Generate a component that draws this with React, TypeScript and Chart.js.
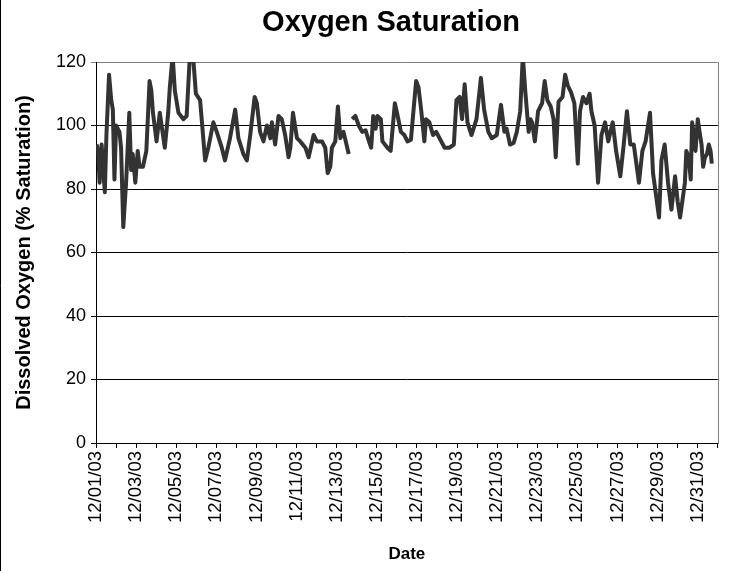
import React, { useEffect, useRef } from 'react';
import { Chart, registerables } from 'chart.js';

Chart.register(...registerables);

const TITLE = 'Oxygen Saturation';
const X_TITLE = 'Date';
const Y_TITLE = 'Dissolved Oxygen (% Saturation)';

// Days elapsed since 12/01/03 00:00
const dayOffsets: number[] = [
  0.03, 0.11, 0.18, 0.28, 0.44, 0.52, 0.65, 0.76, 0.84, 0.92,
  1.0, 1.17, 1.25, 1.36, 1.5, 1.66, 1.75, 1.83, 1.96, 2.08,
  2.17, 2.34, 2.51, 2.67, 2.76, 2.84, 3.02, 3.18, 3.27, 3.43,
  3.6, 3.68, 3.82, 3.93, 4.11, 4.36, 4.52, 4.68, 4.85, 4.98,
  5.19, 5.44, 5.6, 5.85, 6.02, 6.27, 6.43, 6.68, 6.94, 7.1,
  7.35, 7.52, 7.69, 7.91, 8.02, 8.18, 8.35, 8.52, 8.69, 8.77,
  8.93, 9.1, 9.26, 9.43, 9.6, 9.69, 9.82, 10.02, 10.18, 10.44,
  10.6, 10.85, 11.01, 11.27, 11.43, 11.55, 11.68, 11.76, 11.93, 12.06,
  12.18, 12.34, 12.6, 12.66, 12.77, 12.93, 13.1, 13.27, 13.44, 13.61,
  13.72, 13.82, 13.94, 14.03, 14.2, 14.28, 14.53, 14.69, 14.9, 15.04,
  15.2, 15.37, 15.53, 15.7, 15.96, 16.08, 16.21, 16.37, 16.45, 16.62,
  16.8, 16.96, 17.13, 17.38, 17.62, 17.84, 17.97, 18.13, 18.25, 18.38,
  18.52, 18.72, 18.97, 19.19, 19.35, 19.56, 19.73, 19.98, 20.19, 20.36,
  20.47, 20.64, 20.82, 20.98, 21.15, 21.28, 21.4, 21.57, 21.66, 21.74,
  21.88, 22.04, 22.24, 22.37, 22.5, 22.67, 22.81, 22.92, 23.06, 23.26,
  23.39, 23.52, 23.68, 23.85, 24.02, 24.13, 24.28, 24.45, 24.61, 24.7,
  24.86, 25.03, 25.2, 25.38, 25.54, 25.76, 25.93, 26.14, 26.31, 26.47,
  26.64, 26.81, 27.07, 27.24, 27.4, 27.62, 27.74, 27.77, 27.93, 28.07,
  28.19, 28.35, 28.52, 28.69, 28.87, 29.0, 29.12, 29.36, 29.43, 29.55,
  29.65, 29.72, 29.79, 29.89, 30.0, 30.09, 30.19, 30.27, 30.36, 30.46,
  30.55, 30.64, 30.7,
];

// Dissolved oxygen, % saturation (null = missing reading)
const saturation: (number | null)[] = [
  94, 92, 82, 94, 79, 97, 116, 108, 105, 83,
  100, 98, 93, 68, 82, 104, 86, 91, 82, 92,
  87, 87, 92, 114, 111, 104, 95, 104, 100, 93,
  104, 112, 122, 111, 104, 102, 103, 122, 121, 110,
  108, 89, 93, 101, 98, 93, 89, 96, 105, 96,
  91, 89, 97, 109, 107, 98, 95, 100, 96, 101,
  94, 103, 102, 97, 90, 93, 104, 96, 95, 93,
  90, 97, 95, 95, 93, 85, 87, 93, 95, 106,
  96, 98, 91, null, 102, 103, 100, 98, 98.5, 95,
  93, 103, 99, 103, 102, 95, 93, 92, 107, 103,
  98, 97, 95, 95.5, 114, 112, 105, 95, 102, 101,
  97, 98, 96, 93, 93, 94, 108, 109, 102, 113,
  101, 97, 102, 115, 105, 98, 96, 97, 106.5, 98,
  99, 94, 94.5, 98, 104.5, 122, 111, 98, 102, 101,
  95, 104.5, 107, 114, 108, 106, 102, 90, 107.5, 109,
  116, 112.6, 110.5, 107, 88, 104.5, 109, 107, 110, 104.5,
  100, 82, 97, 101, 95, 101, 92, 84, 94, 104.5,
  94, 94, 82, 92, 95, 104, 89, 85, 77.6, 71,
  89, 94, 82, 73.5, 84, 76, 71, 82, 92, 90,
  83, 101, 98, 92, 102, 98, 94, 87, 90, 91,
  94, 92, 88,
];

const dateLabels: string[] = [
  '12/01/03', '12/03/03', '12/05/03', '12/07/03', '12/09/03', '12/11/03',
  '12/13/03', '12/15/03', '12/17/03', '12/19/03', '12/21/03', '12/23/03',
  '12/25/03', '12/27/03', '12/29/03', '12/31/03',
];

const yTicks: number[] = [0, 20, 40, 60, 80, 100, 120];

const FONT = "'Liberation Sans', Arial, Helvetica, sans-serif";

const titlePlugin = {
  id: 'chartTitle',
  afterDraw(chart: any) {
    const { ctx } = chart;
    ctx.save();
    ctx.fillStyle = '#000';
    ctx.font = `bold 29px ${FONT}`;
    ctx.textAlign = 'center';
    ctx.textBaseline = 'middle';
    ctx.fillText(TITLE, 391, 23);
    ctx.restore();
  },
};

const framePlugin = {
  id: 'frame',
  afterDraw(chart: any) {
    const { ctx, chartArea } = chart;
    ctx.save();
    ctx.strokeStyle = '#808080';
    ctx.lineWidth = 1;
    ctx.beginPath();
    const rx = Math.round(chartArea.right) + 0.5;
    ctx.moveTo(rx, Math.round(chartArea.top));
    ctx.lineTo(rx, Math.round(chartArea.bottom) + 1);
    ctx.stroke();
    ctx.strokeStyle = '#000000';
    ctx.beginPath();
    ctx.moveTo(0.5, 0);
    ctx.lineTo(0.5, chart.height);
    ctx.stroke();
    ctx.restore();
  },
};

export default function App() {
  const canvasRef = useRef<HTMLCanvasElement | null>(null);

  useEffect(() => {
    if (!canvasRef.current) return;
    const points = dayOffsets.map((d, i) => ({ x: d, y: saturation[i] }));
    const chart = new Chart(canvasRef.current, {
      type: 'line',
      data: {
        datasets: [
          {
            label: 'Dissolved Oxygen',
            data: points as any,
            borderColor: '#333333',
            borderWidth: 4,
            pointRadius: 0,
            tension: 0,
            spanGaps: false,
            clip: 0,
            borderJoinStyle: 'round',
          },
        ],
      },
      options: {
        responsive: false,
        animation: false,
        devicePixelRatio: 1,
        layout: { padding: { left: 0, right: 9, top: 62, bottom: 0 } },
        plugins: {
          legend: { display: false },
          tooltip: { enabled: false },
          title: { display: false },
        },
        scales: {
          x: {
            type: 'linear',
            min: 0,
            max: 31,
            afterFit: (scale: any) => {
              scale.height = 128;
            },
            ticks: {
              stepSize: 1,
              autoSkip: false,
              minRotation: 90,
              maxRotation: 90,
              padding: 3,
              color: '#000',
              font: { family: FONT, size: 18.5 },
              callback: (v: any) => {
                const n = Math.round(Number(v));
                return n % 2 === 0 && n / 2 < dateLabels.length ? dateLabels[n / 2] : '';
              },
            },
            grid: {
              display: true,
              drawOnChartArea: false,
              drawTicks: true,
              tickLength: 5,
              color: '#000',
            },
            border: { display: true, color: '#000', width: 1 },
            title: {
              display: true,
              text: X_TITLE,
              color: '#000',
              font: { family: FONT, size: 17, weight: 'bold', lineHeight: 1.2 },
              padding: { top: 0, bottom: 6 },
            },
          },
          y: {
            min: 0,
            max: 120,
            afterFit: (scale: any) => {
              scale.width = 96;
            },
            afterBuildTicks: (scale: any) => {
              scale.ticks = yTicks.map((v) => ({ value: v }));
            },
            ticks: {
              padding: 5,
              color: '#000',
              font: { family: FONT, size: 18 },
            },
            grid: {
              display: true,
              drawTicks: true,
              tickLength: 5,
              color: (c: any) => (c.tick && c.tick.value === 120 ? '#808080' : '#000000'),
            },
            border: { display: true, color: '#000', width: 1 },
            title: {
              display: true,
              text: Y_TITLE,
              color: '#000',
              font: { family: FONT, size: 20, weight: 'bold', lineHeight: 1.2 },
              padding: { top: 12, bottom: 0 },
            },
          },
        },
      },
      plugins: [titlePlugin, framePlugin],
    });
    return () => chart.destroy();
  }, []);

  return (
    <div style={{ position: 'fixed', left: 0, top: 0, width: 743, height: 571, background: '#fff' }}>
      <canvas ref={canvasRef} width={743} height={571} style={{ display: 'block' }} />
    </div>
  );
}
